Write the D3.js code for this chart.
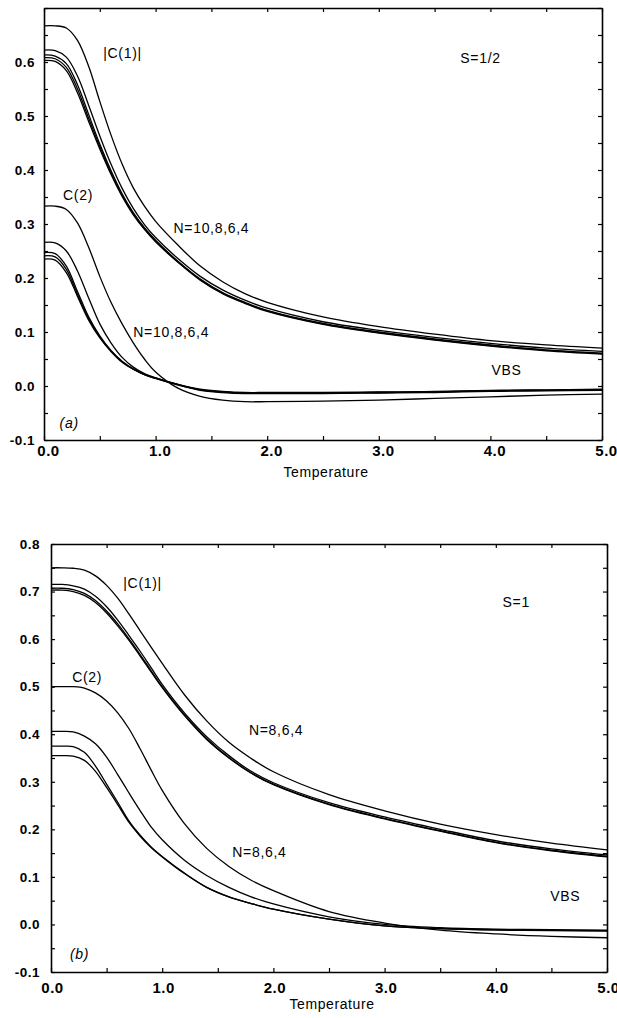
<!DOCTYPE html>
<html>
<head>
<meta charset="utf-8">
<script src="https://cdn.jsdelivr.net/npm/d3@7"></script>
<style>
  body { margin: 0; background: #fff; }
  svg text { font-family: "Liberation Sans", Arial, Helvetica, sans-serif; fill: #000; }
  .tick text { font-weight: bold; }
  .curve { fill: none; stroke: #000; stroke-width: 1.3; }
</style>
</head>
<body>
<div id="chart"></div>
<script>

// Temperature grid shared by every curve
var temps = [0, 0.1, 0.2, 0.3, 0.4, 0.5, 0.6, 0.7, 0.8, 0.9, 1.0, 1.2, 1.4, 1.6, 1.8, 2.0, 2.5, 3.0, 3.5, 4.0, 4.5, 5.0];

// (a) S=1/2, |C(1)|
var c1_half_N4  = [0.667, 0.667, 0.663, 0.640, 0.592, 0.527, 0.465, 0.411, 0.367, 0.333, 0.305, 0.261, 0.222, 0.193, 0.171, 0.155, 0.128, 0.110, 0.096, 0.084, 0.076, 0.070];
var c1_half_N6  = [0.622, 0.621, 0.609, 0.574, 0.520, 0.463, 0.411, 0.366, 0.329, 0.299, 0.275, 0.236, 0.203, 0.178, 0.159, 0.144, 0.119, 0.103, 0.090, 0.079, 0.070, 0.064];
var c1_half_N8  = [0.613, 0.611, 0.597, 0.558, 0.503, 0.448, 0.399, 0.356, 0.321, 0.293, 0.270, 0.231, 0.198, 0.173, 0.155, 0.140, 0.116, 0.100, 0.087, 0.076, 0.067, 0.061];
var c1_half_N10 = [0.608, 0.606, 0.590, 0.550, 0.496, 0.443, 0.395, 0.353, 0.319, 0.291, 0.268, 0.230, 0.197, 0.172, 0.154, 0.139, 0.115, 0.099, 0.086, 0.075, 0.066, 0.060];
var c1_half_VBS = [0.603, 0.601, 0.584, 0.543, 0.490, 0.439, 0.392, 0.351, 0.317, 0.290, 0.267, 0.229, 0.196, 0.171, 0.153, 0.138, 0.114, 0.098, 0.085, 0.074, 0.065, 0.059];

// (a) S=1/2, C(2)
var c2_half_N4  = [0.333, 0.333, 0.327, 0.302, 0.257, 0.203, 0.155, 0.115, 0.080, 0.050, 0.026, -0.004, -0.019, -0.026, -0.029, -0.029, -0.028, -0.026, -0.023, -0.020, -0.017, -0.015];
var c2_half_N6  = [0.266, 0.265, 0.250, 0.213, 0.163, 0.115, 0.080, 0.053, 0.035, 0.023, 0.015, 0.003, -0.006, -0.010, -0.012, -0.012, -0.012, -0.011, -0.010, -0.008, -0.007, -0.006];
var c2_half_N8  = [0.247, 0.245, 0.222, 0.175, 0.128, 0.093, 0.066, 0.046, 0.032, 0.022, 0.015, 0.003, -0.007, -0.011, -0.013, -0.013, -0.013, -0.012, -0.011, -0.009, -0.008, -0.007];
var c2_half_N10 = [0.241, 0.239, 0.216, 0.170, 0.125, 0.091, 0.065, 0.045, 0.031, 0.021, 0.014, 0.002, -0.007, -0.011, -0.013, -0.013, -0.013, -0.012, -0.011, -0.009, -0.008, -0.007];
var c2_half_VBS = [0.235, 0.233, 0.210, 0.166, 0.122, 0.089, 0.064, 0.044, 0.031, 0.021, 0.014, 0.002, -0.008, -0.012, -0.014, -0.014, -0.014, -0.013, -0.012, -0.010, -0.009, -0.008];

// (b) S=1, |C(1)|
var c1_one_N4  = [0.750, 0.750, 0.749, 0.745, 0.733, 0.713, 0.686, 0.653, 0.618, 0.583, 0.549, 0.483, 0.428, 0.383, 0.349, 0.321, 0.273, 0.239, 0.211, 0.189, 0.171, 0.157];
var c1_one_N6  = [0.715, 0.715, 0.712, 0.705, 0.690, 0.668, 0.640, 0.608, 0.575, 0.540, 0.505, 0.445, 0.395, 0.355, 0.322, 0.298, 0.256, 0.226, 0.200, 0.176, 0.159, 0.146];
var c1_one_N8  = [0.707, 0.707, 0.704, 0.696, 0.681, 0.659, 0.632, 0.601, 0.568, 0.534, 0.500, 0.441, 0.391, 0.351, 0.319, 0.295, 0.253, 0.223, 0.197, 0.173, 0.156, 0.143];
var c1_one_VBS = [0.703, 0.703, 0.700, 0.692, 0.677, 0.655, 0.628, 0.598, 0.565, 0.531, 0.498, 0.439, 0.389, 0.350, 0.318, 0.294, 0.252, 0.222, 0.196, 0.172, 0.155, 0.142];

// (b) S=1, C(2)
var c2_one_N4  = [0.500, 0.500, 0.500, 0.497, 0.487, 0.470, 0.445, 0.412, 0.370, 0.325, 0.282, 0.212, 0.160, 0.122, 0.093, 0.071, 0.027, 0.003, -0.012, -0.020, -0.025, -0.028];
var c2_one_N6  = [0.406, 0.406, 0.405, 0.396, 0.380, 0.352, 0.315, 0.277, 0.240, 0.205, 0.178, 0.135, 0.103, 0.078, 0.058, 0.043, 0.016, 0.000, -0.007, -0.010, -0.011, -0.012];
var c2_one_N8  = [0.375, 0.375, 0.374, 0.362, 0.333, 0.295, 0.257, 0.218, 0.188, 0.163, 0.143, 0.108, 0.078, 0.058, 0.044, 0.032, 0.011, -0.003, -0.009, -0.011, -0.012, -0.013];
var c2_one_VBS = [0.355, 0.355, 0.354, 0.345, 0.322, 0.288, 0.252, 0.215, 0.186, 0.162, 0.142, 0.107, 0.078, 0.058, 0.044, 0.032, 0.011, -0.003, -0.009, -0.012, -0.013, -0.014];

var svg = d3.select("#chart").append("svg")
  .attr("width", 617)
  .attr("height", 1018)
  .style("display", "block");

/**
 * One correlation-vs-temperature panel
 */
var CorrPanel = function(opts) {

  var self = this;
  self.opts = opts;

  self.x = d3.scaleLinear().domain([0, 5]).range([opts.left, opts.right]);
  self.y = d3.scaleLinear().domain(opts.ydomain).range([opts.bottom, opts.top]);

  self.g = svg.append("g");
};

CorrPanel.prototype.add_axes = function() {

  var self = this, o = self.opts;

  var xticks = d3.range(0, 5.001, 0.5);
  var yticks = d3.range(Math.round(o.ydomain[0] * 20), Math.round(o.ydomain[1] * 20) + 1).map(function(k) { return k / 20; });

  var is_major = function(v, step) {
    return Math.abs(Math.round(v / step) * step - v) < 1e-6;
  };
  var xfmt = function(d) { return is_major(d, 1) ? d.toFixed(1) : ""; };
  var yfmt = function(d) {
    //the S=1/2 panel has no label at its top tick
    if (o.skip_top_label && Math.abs(d - o.ydomain[1]) < 1e-6) return "";
    return is_major(d, 0.1) ? d.toFixed(1) : "";
  };

  //ticks point inward on all four sides
  var bottom = self.g.append("g").attr("transform", "translate(0," + o.bottom + ")")
    .call(d3.axisBottom(self.x).tickValues(xticks).tickFormat(xfmt).tickSizeInner(-4).tickSizeOuter(0).tickPadding(o.xpad));
  bottom.selectAll("text").attr("dx", o.xdx).style("font-size", "15px").style("letter-spacing", "0.5px");

  self.g.append("g").attr("transform", "translate(0," + o.top + ")")
    .call(d3.axisTop(self.x).tickValues(xticks).tickFormat("").tickSizeInner(-4).tickSizeOuter(0));

  var left = self.g.append("g").attr("transform", "translate(" + o.left + ",0)")
    .call(d3.axisLeft(self.y).tickValues(yticks).tickFormat(yfmt).tickSizeInner(-4).tickSizeOuter(0).tickPadding(o.ypad));
  left.selectAll("text").style("font-size", "13.5px").style("letter-spacing", "0.5px");

  self.g.append("g").attr("transform", "translate(" + o.right + ",0)")
    .call(d3.axisRight(self.y).tickValues(yticks).tickFormat("").tickSizeInner(-4).tickSizeOuter(0));

  self.g.selectAll(".domain").attr("stroke-width", 1.6);
  self.g.selectAll(".tick line").attr("stroke-width", 1.2);

  self.g.append("text")
    .attr("x", o.xtitle_x)
    .attr("y", o.bottom + o.xtitle_dy)
    .attr("text-anchor", "middle")
    .style("font-size", "14px")
    .style("letter-spacing", "0.6px")
    .text("Temperature");

  return this;
};

CorrPanel.prototype.add_lines = function(series) {

  var self = this;

  var line = d3.line()
    .x(function(d) { return self.x(d[0]); })
    .y(function(d) { return self.y(d[1]); })
    .curve(d3.curveCatmullRom.alpha(0.5));

  self.g.selectAll(".curve-" + self.opts.name)
    .data(series)
    .enter().append("path")
    .attr("class", "curve curve-" + self.opts.name)
    .attr("d", function(vals) {
      return line(temps.map(function(t, i) { return [t, vals[i]]; }));
    });

  return this;
};

CorrPanel.prototype.add_labels = function(labels) {

  var self = this;

  self.g.selectAll(".lab-" + self.opts.name)
    .data(labels)
    .enter().append("text")
    .attr("class", "lab-" + self.opts.name)
    .attr("x", function(d) { return self.x(d.t); })
    .attr("y", function(d) { return self.y(d.v); })
    .attr("dy", "0.36em")
    .style("font-size", "14px")
    .style("letter-spacing", "0.7px")
    .style("font-style", function(d) { return d.italic ? "italic" : "normal"; })
    .text(function(d) { return d.text; });

  return this;
};

//Panel (a): S=1/2
new CorrPanel({
  name: "a", left: 44, right: 602, top: 8, bottom: 440, ydomain: [-0.1, 0.7],
  xpad: 5, xdx: 4, ypad: 9, xtitle_x: 326, xtitle_dy: 37, skip_top_label: true
})
  .add_axes()
  .add_lines([c1_half_N4, c1_half_N6, c1_half_N8, c1_half_N10, c1_half_VBS,
              c2_half_N4, c2_half_N6, c2_half_N8, c2_half_N10, c2_half_VBS])
  .add_labels([
    { text: "|C(1)|", t: 0.53, v: 0.617 },
    { text: "C(2)", t: 0.17, v: 0.354 },
    { text: "N=10,8,6,4", t: 1.16, v: 0.293 },
    { text: "N=10,8,6,4", t: 0.80, v: 0.100 },
    { text: "S=1/2", t: 3.73, v: 0.607 },
    { text: "VBS", t: 4.01, v: 0.030 },
    { text: "(a)", t: 0.14, v: -0.069, italic: true }
  ]);

//Panel (b): S=1
new CorrPanel({
  name: "b", left: 51, right: 607, top: 544, bottom: 972, ydomain: [-0.1, 0.8],
  xpad: 10, xdx: 1, ypad: 11, xtitle_x: 332, xtitle_dy: 37
})
  .add_axes()
  .add_lines([c1_one_N4, c1_one_N6, c1_one_N8, c1_one_VBS,
              c2_one_N4, c2_one_N6, c2_one_N8, c2_one_VBS])
  .add_labels([
    { text: "|C(1)|", t: 0.65, v: 0.718 },
    { text: "C(2)", t: 0.19, v: 0.521 },
    { text: "N=8,6,4", t: 1.78, v: 0.410 },
    { text: "N=8,6,4", t: 1.63, v: 0.153 },
    { text: "S=1", t: 4.06, v: 0.679 },
    { text: "VBS", t: 4.49, v: 0.059 },
    { text: "(b)", t: 0.17, v: -0.063, italic: true }
  ]);

</script>
</body>
</html>
